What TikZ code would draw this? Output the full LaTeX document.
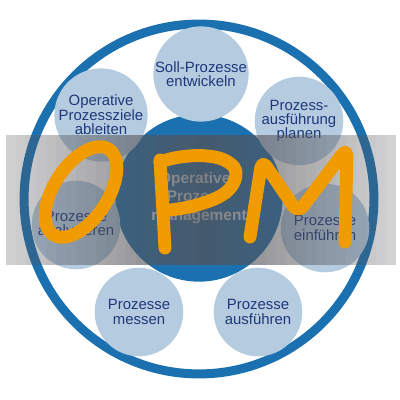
\documentclass[tikz,border=0pt]{standalone}
\usepackage{fontspec}
\setmainfont{Liberation Sans}
\definecolor{ringblue}{RGB}{27,112,176}
\definecolor{paleblue}{RGB}{181,203,224}
\definecolor{navy}{RGB}{30,55,122}
\definecolor{bandgrey}{RGB}{84,84,88}
\definecolor{opmorange}{RGB}{240,155,0}

\begin{document}
\begin{tikzpicture}[x=0.025cm,y=0.025cm,
  task/.style={circle,fill=paleblue,minimum size=63pt,inner sep=0pt,align=center,text=navy,font=\fontsize{10.6}{10.2}\selectfont},
  core/.style={circle,fill=ringblue,minimum size=119pt,inner sep=0pt,align=center,text=white,font=\fontsize{11}{13}\selectfont\bfseries},
  opm/.style={draw=opmorange,line width=9.2pt,line cap=round,line join=round}]
\useasboundingbox (-199,-201) rectangle (201,199);
\draw[ringblue,line width=6.4pt] (0,0) circle (124.4pt);
\node [core] (opmcore) at (0,1) {Operatives\\Prozess-\\management};
\node [task] (soll) at (2,125) {Soll-Prozesse\\entwickeln};
\node [task] (ziele) at (-98,84) {Operative\\Prozessziele\\ableiten};
\node [task] (planen) at (100,78) {Prozess-\\ausführung\\planen};
\node [task] (analyse) at (-123,-26) {Prozesse\\analysieren};
\node [task] (einfuehren) at (126,-29) {Prozesse\\einführen};
\node [task] (messen) at (-60,-113) {Prozesse\\messen};
\node [task] (ausfuehren) at (59,-113) {Prozesse\\ausführen};
\foreach \i in {-193,-183,...,187}{
  \pgfmathsetmacro{\bandop}{0.76-0.5*abs(\i+5)/193}
  \fill[bandgrey,opacity=\bandop] (\i,64) rectangle (\i+10,-66);
}
\draw[opm,rotate around={57:(-118,7)}] (-118,7) ellipse [x radius=51,y radius=27];
\draw[opm] (-39,39) -- (-34,-49);
\draw[opm] plot[smooth,tension=0.7] coordinates {(-39,37) (-19,42) (8,43) (29,37) (37,24) (26,6) (-2,-6) (-29,-11)};
\draw[opm,rounded corners=6pt] (51,-38) -- (63,39) -- (99,-14) -- (148,51) -- (146,-43);
\end{tikzpicture}
\end{document}
